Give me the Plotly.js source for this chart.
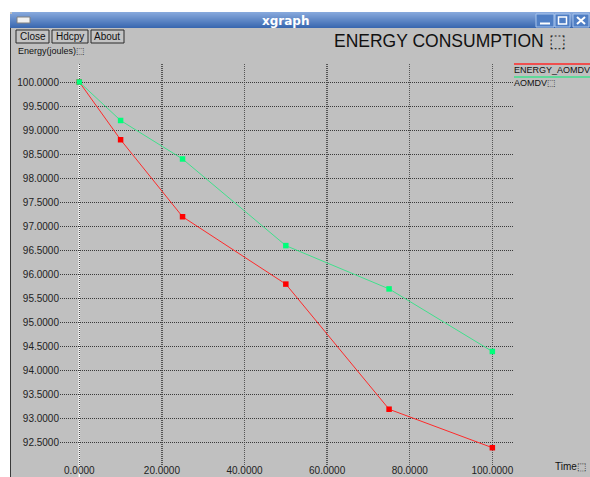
<!DOCTYPE html>
<html>
<head>
<meta charset="utf-8">
<script src="https://cdn.plot.ly/plotly-3.0.1.min.js"></script>
<style>
  html, body { margin: 0; padding: 0; background: #ffffff; }
  #chart { width: 590px; height: 477px; }
</style>
</head>
<body>
<div id="chart"></div>
<script>
// ---- data ----
const timeValues = [0, 10, 25, 50, 75, 100];
const energyAomdvValues = [100, 98.8, 97.2, 95.8, 93.2, 92.4];
const aomdvValues = [100, 99.2, 98.4, 96.6, 95.7, 94.4];
const seriesNames = ['ENERGY_AOMDV', 'AOMDV\u2B1A'];
const xTickValues = [0, 20, 40, 60, 80, 100];
const xTickLabels = ['0.0000', '20.0000', '40.0000', '60.0000', '80.0000', '100.0000'];
const yTickValues = [92.5, 93, 93.5, 94, 94.5, 95, 95.5, 96, 96.5, 97, 97.5, 98, 98.5, 99, 99.5, 100];
const yTickLabels = ['92.5000', '93.0000', '93.5000', '94.0000', '94.5000', '95.0000', '95.5000', '96.0000',
                     '96.5000', '97.0000', '97.5000', '98.0000', '98.5000', '99.0000', '99.5000', '100.0000'];
const chartTitle = 'ENERGY CONSUMPTION \u2B1A';
const yAxisLabel = 'Energy(joules)\u2B1A';
const xAxisLabel = 'Time\u2B1A';
const windowTitle = 'xgraph';
const buttonLabels = ['Close', 'Hdcpy', 'About'];

// ---- geometry helpers (pixel -> paper, margins are 0) ----
const W = 590, H = 477;
const px = x => x / W;
const py = y => 1 - y / H;

const FONT = 'Liberation Sans, Arial, sans-serif';

const traces = [
  {
    x: timeValues, y: energyAomdvValues, name: seriesNames[0], type: 'scatter', mode: 'lines+markers',
    line: { color: '#ff2a2a', width: 1 },
    marker: { color: '#ff0000', size: 5.5, symbol: 'square' }
  },
  {
    x: timeValues, y: aomdvValues, name: seriesNames[1], type: 'scatter', mode: 'lines+markers',
    line: { color: '#40e08c', width: 1 },
    marker: { color: '#00ff7a', size: 5.5, symbol: 'square' }
  }
];

const shapes = [];
const annotations = [];

// white area outside window
shapes.push({ type: 'rect', xref: 'paper', yref: 'paper', x0: 0, x1: 1, y0: py(0), y1: py(12), fillcolor: '#ffffff', line: { width: 0 }, layer: 'below' });
shapes.push({ type: 'rect', xref: 'paper', yref: 'paper', x0: 0, x1: px(10), y0: py(0), y1: py(H), fillcolor: '#ffffff', line: { width: 0 }, layer: 'below' });
// left window frame
shapes.push({ type: 'line', xref: 'paper', yref: 'paper', x0: px(10.5), x1: px(10.5), y0: py(16), y1: py(H), line: { color: '#3a3a3a', width: 1 } });

// title bar gradient
const gradTop = [0x86, 0xa8, 0xdc], gradBot = [0x3a, 0x68, 0xb0];
for (let i = 0; i < 16; i++) {
  const t = i / 15;
  const c = gradTop.map((v, k) => Math.round(v + (gradBot[k] - v) * t));
  shapes.push({ type: 'rect', xref: 'paper', yref: 'paper', x0: px(i < 2 ? 12 : 10), x1: 1, y0: py(12 + i), y1: py(13 + i),
    fillcolor: 'rgb(' + c.join(',') + ')', line: { width: 0 } });
}
// window icon at left of title bar
shapes.push({ type: 'rect', xref: 'paper', yref: 'paper', x0: px(17), x1: px(30), y0: py(17), y1: py(23), fillcolor: '#f0f0f0', line: { color: '#808080', width: 1 } });
annotations.push({ xref: 'paper', yref: 'paper', x: px(285), y: py(20.5), text: '<b>' + windowTitle + '</b>', showarrow: false,
  font: { family: 'DejaVu Sans, sans-serif', size: 12, color: '#ffffff' }, xanchor: 'center', yanchor: 'middle' });

// window control buttons
const ctrl = [[536, 554], [555, 570], [573, 589]];
ctrl.forEach(([a, b]) => {
  shapes.push({ type: 'rect', xref: 'paper', yref: 'paper', x0: px(a), x1: px(b), y0: py(14), y1: py(27), fillcolor: '#4f7ec4', line: { color: '#a8c4ec', width: 1 } });
});
shapes.push({ type: 'line', xref: 'paper', yref: 'paper', x0: px(540), x1: px(550), y0: py(23.5), y1: py(23.5), line: { color: '#ffffff', width: 2 } });
shapes.push({ type: 'rect', xref: 'paper', yref: 'paper', x0: px(558.5), x1: px(566.5), y0: py(17), y1: py(24), line: { color: '#ffffff', width: 1.5 } });
shapes.push({ type: 'line', xref: 'paper', yref: 'paper', x0: px(577), x1: px(585), y0: py(17), y1: py(24), line: { color: '#ffffff', width: 2 } });
shapes.push({ type: 'line', xref: 'paper', yref: 'paper', x0: px(577), x1: px(585), y0: py(24), y1: py(17), line: { color: '#ffffff', width: 2 } });

// xgraph buttons
const btns = [[16, 49], [52, 88], [91, 124]];
btns.forEach(([a, b], i) => {
  shapes.push({ type: 'rect', xref: 'paper', yref: 'paper', x0: px(a), x1: px(b), y0: py(30), y1: py(43), fillcolor: '#c4c4c4', line: { color: '#2a2a2a', width: 1 } });
  annotations.push({ xref: 'paper', yref: 'paper', x: px((a + b) / 2), y: py(36.8), text: buttonLabels[i], showarrow: false,
    font: { family: FONT, size: 10, color: '#111111' }, xanchor: 'center', yanchor: 'middle' });
});

// axis label texts
annotations.push({ xref: 'paper', yref: 'paper', x: px(16), y: py(51), text: yAxisLabel, showarrow: false,
  font: { family: FONT, size: 9, color: '#111111' }, xanchor: 'left', yanchor: 'middle' });
annotations.push({ xref: 'paper', yref: 'paper', x: px(588), y: py(466), text: xAxisLabel, showarrow: false,
  font: { family: FONT, size: 10, color: '#111111' }, xanchor: 'right', yanchor: 'middle' });
// chart title
annotations.push({ xref: 'paper', yref: 'paper', x: px(332), y: py(41), text: chartTitle, showarrow: false,
  font: { family: FONT, size: 17.5, color: '#111111' }, xanchor: 'left', yanchor: 'middle' });

// legend (xgraph style: coloured line above name)
const legendColors = ['#ff2a2a', '#40e08c'];
const legendY = [64, 77];
seriesNames.forEach((n, i) => {
  shapes.push({ type: 'line', xref: 'paper', yref: 'paper', x0: px(514), x1: 1, y0: py(legendY[i]), y1: py(legendY[i]), line: { color: legendColors[i], width: 1.5 } });
  annotations.push({ xref: 'paper', yref: 'paper', x: px(512), y: py(legendY[i] + 6), text: n, showarrow: false,
    font: { family: FONT, size: 9, color: '#111111' }, xanchor: 'left', yanchor: 'middle' });
});

// white zero axis line through x = 0
shapes.push({ type: 'line', xref: 'x', yref: 'paper', x0: 0, x1: 0, y0: py(64), y1: py(H), line: { color: '#ffffff', width: 1.5 }, layer: 'below' });

const layout = {
  width: W, height: H,
  margin: { l: 0, r: 0, t: 0, b: 0, pad: 0 },
  paper_bgcolor: '#c0c0c0',
  plot_bgcolor: 'rgba(0,0,0,0)',
  showlegend: false,
  xaxis: {
    domain: [px(60), px(513)],
    range: [-4.67, 105.0],
    tickvals: xTickValues, ticktext: xTickLabels,
    showgrid: true, gridcolor: '#555555', griddash: '1px,1px', gridwidth: 1.5,
    zeroline: false, showline: false, ticks: '',
    ticklabelstandoff: -3,
    tickfont: { family: FONT, size: 10, color: '#222222' },
    fixedrange: true
  },
  yaxis: {
    domain: [py(466), py(64)],
    range: [92.02, 100.374],
    tickvals: yTickValues, ticktext: yTickLabels,
    showgrid: true, gridcolor: '#3a3a3a', griddash: '1px,1px', gridwidth: 1,
    zeroline: false, showline: false, ticks: '',
    tickfont: { family: FONT, size: 10, color: '#222222' },
    fixedrange: true
  },
  shapes: shapes,
  annotations: annotations
};

Plotly.newPlot('chart', traces, layout, { displayModeBar: false, staticPlot: true });
</script>
</body>
</html>
